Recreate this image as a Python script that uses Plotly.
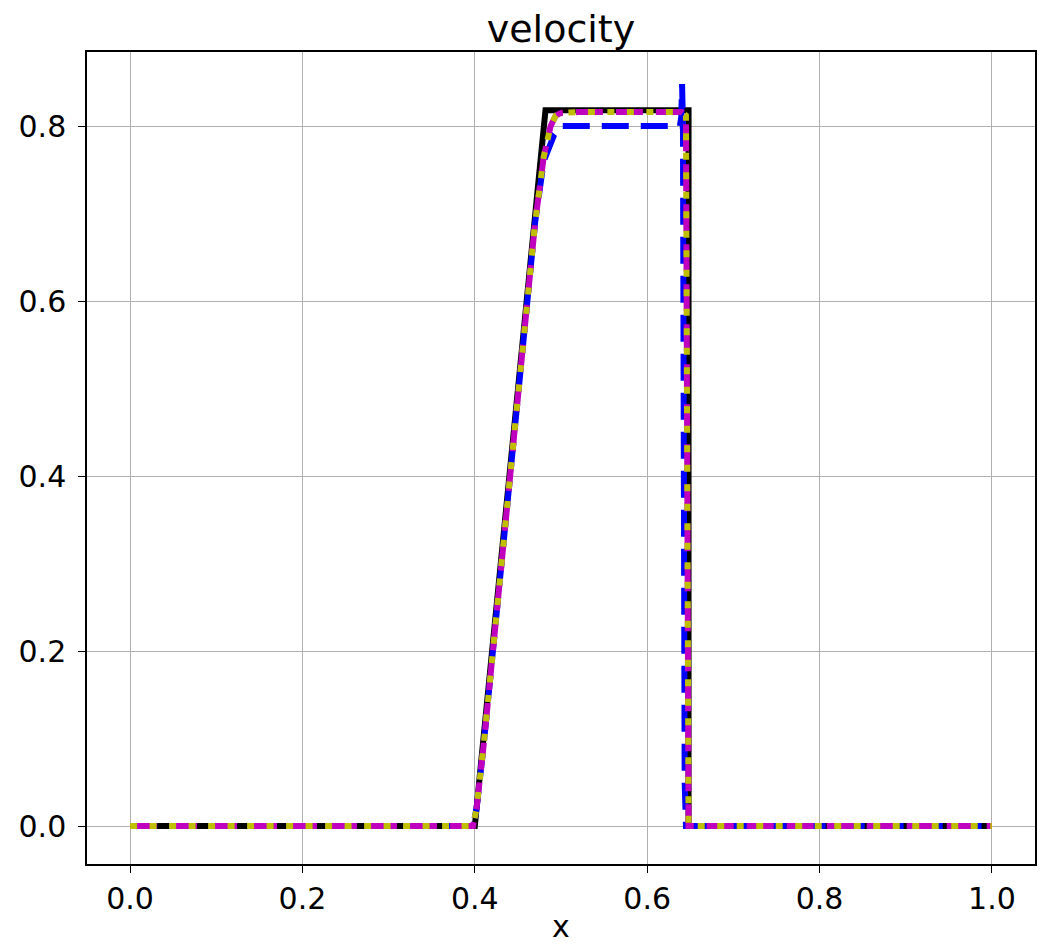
import plotly.graph_objects as go

# exact solution
x_exact = [0.0, 0.400, 0.482, 0.648, 0.648, 1.0]
u_exact = [0.0, 0.0, 0.818, 0.818, 0.0, 0.0]

# scheme A (blue dashed)
x_a = [0.0, 0.398, 0.402, 0.41, 0.44, 0.47, 0.48, 0.487, 0.492, 0.500, 0.52, 0.60, 0.630, 0.638, 0.6395, 0.6405, 0.6415, 0.642, 0.6435, 0.645, 1.0]
u_a = [0.0, 0.0, 0.02, 0.09, 0.39, 0.69, 0.76, 0.78, 0.79, 0.800, 0.80, 0.80, 0.800, 0.800, 0.810, 0.848, 0.800, 0.500, 0.050, 0.0, 0.0]

# scheme B (magenta dashed) and scheme C (yellow dotted)
x_b = [0.0, 0.398, 0.402, 0.41, 0.44, 0.47, 0.48, 0.488, 0.494, 0.500, 0.52, 0.60, 0.640, 0.645, 0.6465, 0.648, 1.0]
u_b = [0.0, 0.0, 0.02, 0.09, 0.39, 0.69, 0.765, 0.80, 0.812, 0.815, 0.816, 0.816, 0.816, 0.812, 0.40, 0.0, 0.0]
x_c = x_b
u_c = u_b

x_ticks = [0.0, 0.2, 0.4, 0.6, 0.8, 1.0]
y_ticks = [0.0, 0.2, 0.4, 0.6, 0.8]

W = 6
fig = go.Figure()
fig.add_trace(go.Scatter(x=x_exact, y=u_exact, mode="lines",
                         line=dict(color="black", width=W)))
fig.add_trace(go.Scatter(x=x_a, y=u_a, mode="lines",
                         line=dict(color="#0000ff", width=W, dash="27px,12px")))
fig.add_trace(go.Scatter(x=x_b, y=u_b, mode="lines",
                         line=dict(color="#bf00bf", width=W, dash="27px,13px")))
fig.add_trace(go.Scatter(x=x_c, y=u_c, mode="lines",
                         line=dict(color="#bfbf00", width=W, dash="7px,12.5px")))

font = "DejaVu Sans"
axis_common = dict(showgrid=True, gridcolor="#b0b0b0", gridwidth=1,
                   showline=True, linecolor="black", linewidth=1.5, mirror=True,
                   ticks="outside", ticklen=7, tickwidth=1.2, tickcolor="black",
                   zeroline=False, automargin=False,
                   tickfont=dict(family=font, size=30, color="black"))

# page body has an 8px default margin, so the figure is sized to fit the window
fig.update_layout(
    width=1037, height=936,
    margin=dict(l=79, r=10, t=44, b=80),
    plot_bgcolor="white", paper_bgcolor="white",
    showlegend=False,
    title=dict(text="velocity", x=(561 - 8) / 1037, xanchor="center", y=1 - 21/936, yanchor="middle",
               yref="container", automargin=False,
               font=dict(family=font, size=38, color="black")),
)
fig.update_xaxes(range=[-0.05, 1.05], tickvals=x_ticks, ticktext=[f"{v:.1f}" for v in x_ticks],
                 ticklabelstandoff=0,
                 title=dict(text="x", font=dict(family=font, size=30, color="black"), standoff=2),
                 **axis_common)
fig.update_yaxes(range=[-0.0434, 0.8846], tickvals=y_ticks, ticktext=[f"{v:.1f}" for v in y_ticks],
                 ticklabelstandoff=6,
                 **axis_common)

fig.write_html("out.html")
